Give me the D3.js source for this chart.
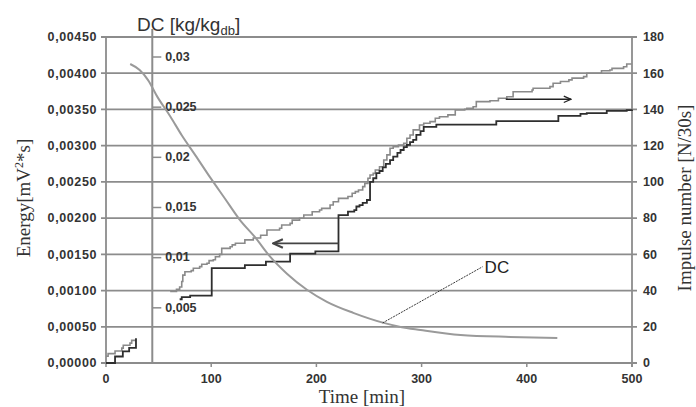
<!DOCTYPE html>
<html>
<head>
<meta charset="utf-8">
<script src="https://cdn.jsdelivr.net/npm/d3@7/dist/d3.min.js"></script>
<style>
body { margin: 0; background: #fff; }
svg { display: block; font-family: "Liberation Sans", Arial, sans-serif; }
.serif { font-family: "Liberation Serif", "Times New Roman", serif; }
</style>
</head>
<body>
<svg width="696" height="407"></svg>
<script>
// axes
let timeTicks = [0, 100, 200, 300, 400, 500];
let energyTicks = [0, 0.0005, 0.001, 0.0015, 0.002, 0.0025, 0.003, 0.0035, 0.004, 0.0045];
let impulseTicks = [0, 20, 40, 60, 80, 100, 120, 140, 160, 180];
let dcTicks = [0.005, 0.01, 0.015, 0.02, 0.025, 0.03];
let dcTickLabels = ["0,005", "0,01", "0,015", "0,02", "0,025", "0,03"];
let dcAxisTime = 44;

// energy (dark steps, left axis)
let energyTime1 = [0, 8.6, 16, 22, 28.5];
let energy1 = [0, 0.00009, 0.00016, 0.00021, 0.00034];
let energyTime2 = [70, 72, 80, 100.5, 132, 152, 175, 199, 221, 230, 236, 238, 241, 244, 248, 251, 254, 257, 260, 263, 266, 270, 273, 277, 280, 283, 286, 289, 292, 295, 299, 302, 314, 371, 430, 451, 457, 476, 495, 500];
let energy2 = [0.00088, 0.00091, 0.00093, 0.00131, 0.00135, 0.00140, 0.00151, 0.00154, 0.00204, 0.00209, 0.00211, 0.00216, 0.00218, 0.00221, 0.00225, 0.00250, 0.00255, 0.00262, 0.00265, 0.00270, 0.00275, 0.00280, 0.00285, 0.00290, 0.00294, 0.00298, 0.00301, 0.00305, 0.00308, 0.00315, 0.00320, 0.00326, 0.00329, 0.00334, 0.00341, 0.00344, 0.00345, 0.00348, 0.00349, 0.00350];

// impulse number (light steps, right axis)
let impulseTime1 = [0, 2, 8.6, 15, 16.4, 22.8, 24.4, 28.5];
let impulse1 = [3.7, 5.2, 6.6, 8.2, 9.8, 11, 12.5, 12.5];
let impulseTime2 = [61, 67, 70, 72, 73, 75, 81, 83, 89, 91, 96, 98, 102, 104, 108, 110, 118, 120, 123, 132, 140, 147, 153, 165, 167, 175, 177, 184, 188, 196, 203, 205, 213, 216, 221, 230, 234, 237, 240, 244, 246, 249, 251, 254, 256, 260, 264, 267, 270, 273, 278, 283, 286, 289, 292, 298, 302, 308, 313, 317, 325, 332, 341, 343, 349, 352, 365, 373, 381, 387, 405, 406, 422, 425, 432, 440, 443, 454, 457, 471, 479, 481, 492, 495, 499];
let impulse2 = [39.5, 40.7, 42, 45, 48.5, 50.4, 51, 52.3, 53.2, 54.5, 55.1, 56.5, 57, 58.7, 60, 63.3, 64.2, 65.2, 66.1, 68, 69, 70.5, 73.4, 74.4, 76.2, 77.1, 78.9, 79.9, 81.7, 83.5, 84.5, 85.4, 87.2, 89, 90.9, 91.9, 93.7, 94.6, 95.5, 97.4, 99.2, 102, 103.8, 104.7, 106.6, 108.4, 112.1, 114.9, 118.6, 119.4, 120.4, 121.3, 124.1, 125.9, 128.7, 131.4, 132.4, 133.3, 135.1, 136, 137, 139.7, 140.1, 140.6, 141.5, 144.3, 144.8, 146.2, 147, 149.8, 150.7, 151.7, 152.6, 154.5, 155.4, 156.3, 157.3, 158.1, 160, 161.4, 161.8, 162.7, 163.6, 165.1, 165.5];

// drying curve DC
let dcTime = [23, 32, 40, 49, 61, 72, 85, 99, 113, 127, 142, 156, 172, 191, 210, 235, 264, 280, 299, 337, 384, 429];
let dcValue = [0.0293, 0.0287, 0.0277, 0.0260, 0.0241, 0.0222, 0.0202, 0.0180, 0.0159, 0.0138, 0.0120, 0.0101, 0.0084, 0.0068, 0.0056, 0.0045, 0.0035, 0.0031, 0.0028, 0.0023, 0.0021, 0.0020];

// annotations
let arrowRight = { t1: 380, t2: 442, v: 145.6 };
let arrowLeft = { t1: 221, t2: 159, e: 0.00165 };
let dcLabel = { t1: 263, d1: 0.0035, t2: 358, d2: 0.0091 };

let svg = d3.select('svg');
let plotLeft = 106, plotRight = 632, plotTop = 37, plotBottom = 363;

let x = d3.scaleLinear().domain([0, 500]).range([plotLeft, plotRight]);
let yE = d3.scaleLinear().domain([0, 0.0045]).range([plotBottom, plotTop]);
let yI = d3.scaleLinear().domain([0, 180]).range([plotBottom, plotTop]);
let yDC = d3.scaleLinear().domain([0, 0.03]).range([358, 57]);

let fmtE = function (v) { return d3.format('.5f')(v).replace('.', ','); };

let defs = svg.append('defs');
defs.append('marker')
    .attr('id', 'headR')
    .attr('viewBox', '0 0 10 10')
    .attr('refX', 9).attr('refY', 5)
    .attr('markerWidth', 9).attr('markerHeight', 9)
    .attr('markerUnits', 'userSpaceOnUse')
    .attr('orient', 'auto')
    .append('path')
    .attr('d', 'M1,1.5 L9,5 L1,8.5')
    .attr('fill', 'none').attr('stroke', '#222').attr('stroke-width', 1.4);
defs.append('marker')
    .attr('id', 'headL')
    .attr('viewBox', '0 0 10 10')
    .attr('refX', 9).attr('refY', 5)
    .attr('markerWidth', 12).attr('markerHeight', 12)
    .attr('markerUnits', 'userSpaceOnUse')
    .attr('orient', 'auto')
    .append('path')
    .attr('d', 'M1,1.5 L9,5 L1,8.5')
    .attr('fill', 'none').attr('stroke', '#444').attr('stroke-width', 1.8);

// gridlines
svg.append('g')
    .selectAll('line')
    .data(energyTicks)
    .join('line')
    .attr('x1', plotLeft - 5)
    .attr('x2', plotRight + 5)
    .attr('y1', function (d) { return yE(d); })
    .attr('y2', function (d) { return yE(d); })
    .attr('stroke', '#8c8c8c')
    .attr('stroke-width', 1.8);

// left and right axis lines
svg.append('line')
    .attr('x1', plotLeft).attr('x2', plotLeft).attr('y1', plotTop).attr('y2', plotBottom)
    .attr('stroke', '#8c8c8c').attr('stroke-width', 1.8);
svg.append('line')
    .attr('x1', plotRight).attr('x2', plotRight).attr('y1', plotTop).attr('y2', plotBottom + 4)
    .attr('stroke', '#8c8c8c').attr('stroke-width', 1.8);

// bottom ticks
svg.append('g')
    .selectAll('line')
    .data(timeTicks)
    .join('line')
    .attr('x1', function (d) { return x(d); })
    .attr('x2', function (d) { return x(d); })
    .attr('y1', plotBottom)
    .attr('y2', plotBottom + 4)
    .attr('stroke', '#8c8c8c')
    .attr('stroke-width', 1.5);

// tick labels
svg.append('g')
    .selectAll('text')
    .data(energyTicks)
    .join('text')
    .attr('x', 97)
    .attr('y', function (d) { return yE(d); })
    .attr('dy', '0.35em')
    .attr('text-anchor', 'end')
    .attr('font-size', 12.5)
    .attr('font-weight', 'bold')
    .attr('letter-spacing', 0.6)
    .attr('fill', '#333')
    .text(fmtE);

svg.append('g')
    .selectAll('text')
    .data(impulseTicks)
    .join('text')
    .attr('x', 643)
    .attr('y', function (d) { return yI(d); })
    .attr('dy', '0.35em')
    .attr('font-size', 12.5)
    .attr('font-weight', 'bold')
    .attr('fill', '#333')
    .text(function (d) { return d; });

svg.append('g')
    .selectAll('text')
    .data(timeTicks)
    .join('text')
    .attr('x', function (d) { return x(d); })
    .attr('y', 383)
    .attr('text-anchor', 'middle')
    .attr('font-size', 12.5)
    .attr('font-weight', 'bold')
    .attr('fill', '#333')
    .text(function (d) { return d; });

// DC axis inside the plot
let dcX = x(dcAxisTime);
svg.append('line')
    .attr('x1', dcX).attr('x2', dcX).attr('y1', 29).attr('y2', plotBottom)
    .attr('stroke', '#8c8c8c').attr('stroke-width', 2);
svg.append('g')
    .selectAll('line')
    .data(dcTicks)
    .join('line')
    .attr('x1', dcX)
    .attr('x2', dcX + 9)
    .attr('y1', function (d) { return yDC(d); })
    .attr('y2', function (d) { return yDC(d); })
    .attr('stroke', '#8c8c8c')
    .attr('stroke-width', 1.5);
svg.append('g')
    .selectAll('text')
    .data(dcTicks)
    .join('text')
    .attr('x', dcX + 13)
    .attr('y', function (d) { return yDC(d); })
    .attr('dy', '0.3em')
    .attr('font-size', 12.5)
    .attr('font-weight', 'bold')
    .attr('fill', '#333')
    .text(function (d, i) { return dcTickLabels[i]; });

let dcTitle = svg.append('text')
    .attr('x', 137)
    .attr('y', 31)
    .attr('font-size', 19)
    .attr('fill', '#333');
dcTitle.append('tspan').text('DC [kg/kg');
dcTitle.append('tspan').attr('font-size', 13).attr('dy', 4).text('db');
dcTitle.append('tspan').attr('dy', -4).text(']');

// series
let stepLine = function (ys) {
    return d3.line()
        .x(function (d) { return x(d[0]); })
        .y(function (d) { return ys(d[1]); })
        .curve(d3.curveStepAfter);
};

let impulseSegs = [d3.zip(impulseTime1, impulse1), d3.zip(impulseTime2, impulse2)];
let energySegs = [d3.zip(energyTime1, energy1), d3.zip(energyTime2, energy2)];

svg.append('g')
    .selectAll('path')
    .data(impulseSegs)
    .join('path')
    .attr('d', stepLine(yI))
    .attr('fill', 'none')
    .attr('stroke', '#8a8a8a')
    .attr('stroke-width', 1.6);

svg.append('g')
    .selectAll('path')
    .data(energySegs)
    .join('path')
    .attr('d', stepLine(yE))
    .attr('fill', 'none')
    .attr('stroke', '#2e2e2e')
    .attr('stroke-width', 1.8);

svg.append('path')
    .datum(d3.zip(dcTime, dcValue))
    .attr('d', d3.line()
        .x(function (d) { return x(d[0]); })
        .y(function (d) { return yDC(d[1]); })
        .curve(d3.curveMonotoneX))
    .attr('fill', 'none')
    .attr('stroke', '#9a9a9a')
    .attr('stroke-width', 2);

// arrows
svg.append('line')
    .attr('x1', x(arrowRight.t1)).attr('x2', x(arrowRight.t2))
    .attr('y1', yI(arrowRight.v)).attr('y2', yI(arrowRight.v))
    .attr('stroke', '#222').attr('stroke-width', 1.4)
    .attr('marker-end', 'url(#headR)');
svg.append('line')
    .attr('x1', x(arrowLeft.t1)).attr('x2', x(arrowLeft.t2))
    .attr('y1', yE(arrowLeft.e)).attr('y2', yE(arrowLeft.e))
    .attr('stroke', '#444').attr('stroke-width', 1.8)
    .attr('marker-end', 'url(#headL)');

// DC label
svg.append('line')
    .attr('x1', x(dcLabel.t1)).attr('y1', yDC(dcLabel.d1))
    .attr('x2', x(dcLabel.t2)).attr('y2', yDC(dcLabel.d2))
    .attr('stroke', '#222').attr('stroke-width', 0.9)
    .attr('stroke-dasharray', '2,1');
svg.append('text')
    .attr('x', x(dcLabel.t2) + 2)
    .attr('y', yDC(dcLabel.d2) + 6)
    .attr('font-size', 17)
    .attr('fill', '#222')
    .text('DC');

// axis titles
let yTitle = svg.append('text')
    .attr('class', 'serif')
    .attr('transform', 'translate(30,198) rotate(-90)')
    .attr('text-anchor', 'middle')
    .attr('font-size', 19)
    .attr('fill', '#333');
yTitle.append('tspan').text('Energy[mV');
yTitle.append('tspan').attr('font-size', 12).attr('dy', -7).text('2');
yTitle.append('tspan').attr('dy', 7).text('*s]');

svg.append('text')
    .attr('class', 'serif')
    .attr('transform', 'translate(691,198) rotate(-90)')
    .attr('text-anchor', 'middle')
    .attr('font-size', 19)
    .attr('fill', '#333')
    .text('Impulse number [N/30s]');

svg.append('text')
    .attr('class', 'serif')
    .attr('x', 362)
    .attr('y', 403)
    .attr('text-anchor', 'middle')
    .attr('font-size', 19)
    .attr('fill', '#333')
    .text('Time [min]');
</script>
</body>
</html>
